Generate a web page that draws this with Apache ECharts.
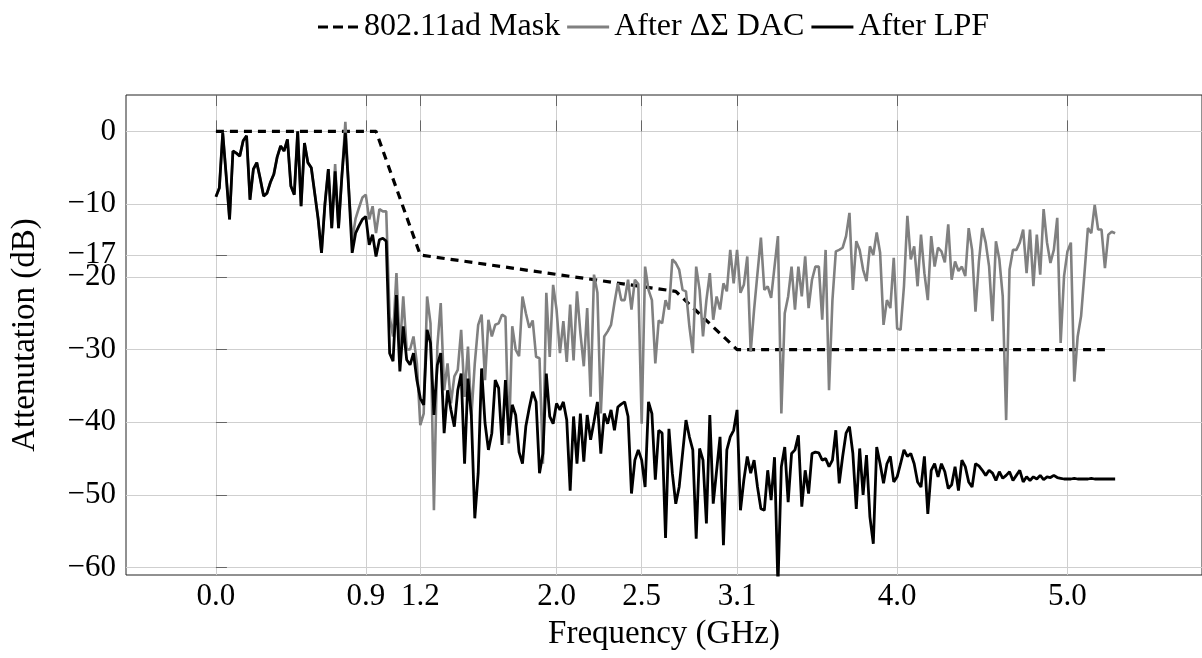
<!DOCTYPE html>
<html>
<head>
<meta charset="utf-8">
<title>DAC spectrum</title>
<script src="https://cdn.jsdelivr.net/npm/echarts@6/dist/echarts.min.js"></script>
<style>
  html, body { margin: 0; padding: 0; background: #fff; }
  #content { width: 1202px; height: 658px; }
</style>
</head>
<body>
<div id="content"></div>
<script>
/* data, one sample every freqStep GHz starting at 0 */
var freqStep = 0.02;

var lpfDb = [
  -9.0,-7.8,-0.2,-6.0,-12.1,-2.7,-3.0,-3.4,-1.3,-0.6,
  -9.4,-5.2,-4.3,-6.5,-8.9,-8.5,-7.0,-5.9,-3.5,-2.0,
  -2.7,-1.1,-7.5,-8.7,0.0,-10.3,-1.6,-4.3,-5.0,-8.5,
  -12.0,-16.7,-10.0,-5.2,-13.3,-5.5,-13.3,-6.0,-0.2,-8.0,
  -16.7,-14.0,-13.0,-12.1,-11.7,-15.6,-14.2,-17.2,-14.9,-14.7,
  -15.1,-30.5,-31.6,-22.5,-33.0,-26.8,-31.4,-32.1,-30.5,-34.2,
  -36.7,-37.6,-27.3,-29.1,-39.0,-32.1,-30.5,-41.5,-35.6,-38.3,
  -40.6,-35.6,-33.3,-45.7,-34.0,-39.2,-53.2,-47.0,-32.6,-40.1,
  -43.8,-41.5,-34.2,-35.3,-43.1,-34.2,-41.8,-37.6,-39.0,-44.1,
  -45.7,-40.5,-38.0,-35.8,-37.2,-47.0,-44.3,-33.3,-39.2,-40.2,
  -37.4,-38.3,-37.2,-39.7,-49.4,-39.2,-45.7,-38.8,-45.4,-39.0,
  -42.4,-39.9,-37.2,-44.3,-38.8,-40.2,-38.3,-41.1,-37.9,-37.5,
  -37.2,-39.2,-49.8,-45.2,-43.8,-45.2,-48.9,-37.2,-38.8,-47.9,
  -41.1,-41.5,-55.9,-40.9,-47.0,-51.2,-48.9,-44.3,-39.7,-42.0,
  -43.8,-56.0,-43.6,-45.2,-53.9,-39.0,-51.2,-46.6,-42.0,-56.9,
  -43.8,-42.0,-41.1,-38.3,-52.1,-47.9,-44.7,-47.0,-45.2,-48.9,
  -51.9,-52.1,-46.6,-50.7,-44.8,-62.5,-46.1,-43.4,-51.0,-44.3,
  -43.8,-41.8,-51.6,-46.6,-49.8,-44.3,-44.1,-44.2,-45.2,-45.0,
  -46.1,-45.2,-41.1,-48.4,-44.7,-41.5,-40.6,-44.3,-51.9,-43.6,
  -50.0,-44.5,-53.0,-56.7,-43.4,-45.7,-48.4,-45.7,-44.7,-48.2,
  -47.5,-45.7,-43.8,-44.7,-44.3,-45.7,-48.2,-48.9,-44.7,-52.6,
  -46.6,-45.7,-47.5,-45.7,-46.8,-49.1,-48.6,-46.1,-49.4,-45.2,
  -46.1,-48.2,-48.9,-45.7,-46.0,-46.6,-47.3,-46.6,-47.0,-48.0,
  -46.8,-47.7,-47.3,-46.8,-48.0,-47.3,-46.6,-48.2,-47.5,-48.0,
  -47.5,-47.8,-47.3,-47.9,-47.5,-47.6,-47.3,-47.6,-47.7,-47.8,
  -47.8,-47.8,-47.7,-47.8,-47.8,-47.8,-47.8,-47.7,-47.8,-47.8,
  -47.8,-47.8,-47.8,-47.8,-47.8
];

var dacDb = [
  -9.0,-7.8,-0.2,-6.0,-12.1,-2.7,-3.0,-3.4,-1.3,-0.6,
  -9.4,-5.2,-4.3,-6.5,-8.9,-8.5,-7.0,-5.9,-3.5,-2.0,
  -2.7,-1.1,-7.5,-8.7,0.0,-10.3,-1.6,-4.3,-5.0,-8.5,
  -12.0,-16.7,-10.0,-5.2,-13.3,-4.5,-13.3,-6.0,1.3,-8.0,
  -15.0,-12.0,-10.5,-9.1,-8.7,-12.1,-10.3,-14.0,-10.7,-11.0,
  -11.0,-25.5,-28.2,-19.5,-30.0,-22.7,-30.0,-30.0,-28.2,-31.9,
  -40.4,-38.8,-22.7,-26.4,-52.1,-29.6,-23.6,-35.6,-31.9,-37.4,
  -33.7,-32.8,-27.3,-36.5,-29.6,-39.2,-31.9,-26.6,-25.2,-34.2,
  -25.9,-28.2,-26.6,-26.4,-25.2,-25.5,-42.9,-26.8,-30.0,-30.9,
  -22.7,-25.0,-27.0,-26.0,-31.0,-31.2,-45.7,-22.2,-31.0,-21.1,
  -24.5,-30.5,-26.1,-31.7,-23.8,-31.5,-22.0,-27.7,-32.3,-24.3,
  -36.5,-19.7,-22.2,-38.8,-28.2,-27.5,-26.6,-23.6,-20.9,-23.2,
  -23.2,-20.4,-24.5,-20.4,-21.0,-40.2,-18.6,-21.8,-23.2,-31.9,
  -26.0,-26.4,-23.2,-24.5,-17.6,-18.1,-19.0,-21.8,-22.0,-26.8,
  -30.5,-18.6,-21.8,-28.2,-23.2,-19.5,-25.9,-22.7,-24.5,-20.9,
  -22.0,-16.3,-20.9,-16.3,-22.2,-21.1,-17.2,-30.3,-24.5,-19.5,
  -14.6,-21.8,-21.3,-22.9,-18.6,-14.4,-38.8,-25.0,-22.7,-18.6,
  -24.5,-18.6,-22.7,-17.2,-24.3,-20.4,-18.6,-18.6,-25.9,-16.3,
  -35.6,-23.2,-16.5,-16.3,-16.0,-14.4,-11.2,-21.8,-15.1,-16.3,
  -19.0,-20.6,-15.8,-17.0,-13.9,-16.7,-26.6,-23.2,-24.3,-17.4,
  -27.1,-27.3,-21.3,-11.6,-17.6,-15.8,-21.3,-14.2,-19.5,-23.2,
  -14.4,-18.6,-16.0,-16.5,-18.0,-12.8,-20.4,-17.9,-19.2,-18.6,
  -19.9,-13.3,-16.3,-24.8,-17.9,-13.3,-15.3,-18.6,-26.1,-15.1,
  -17.6,-22.7,-39.7,-19.0,-16.3,-16.3,-15.3,-13.5,-19.5,-13.5,
  -21.3,-14.2,-19.7,-10.7,-15.3,-18.1,-16.3,-11.9,-29.1,-19.9,
  -16.5,-15.3,-34.4,-28.2,-25.4,-19.5,-13.3,-14.0,-10.1,-13.5,
  -13.5,-18.8,-14.2,-13.8,-14.0
];

/* 802.11ad spectral mask corners */
var maskFreq = [0, 0.94, 1.2, 2.7, 3.06, 5.22];
var maskDb = [0, 0, -17, -22, -30, -30];

/* tick positions and labels */
var xTicks = [0, 0.88, 1.2, 2.0, 2.5, 3.06, 4.0, 5.0];
var yTicks = [0, -10, -17, -20, -30, -40, -50, -60];

var legendNames = ['802.11ad Mask', 'After \u0394\u03A3 DAC', 'After LPF'];

window.onload = function(){
  var font = "'Liberation Serif', 'Times New Roman', serif";

  function pairs(ys){
    return ys.map(function(y, i){ return [+(i * freqStep).toFixed(2), y]; });
  }
  var maskData = maskFreq.map(function(f, i){ return [f, maskDb[i]]; });

  function yLabel(v){
    return v < 0 ? '\u2212' + Math.abs(v) : String(v);
  }

  var myChart = echarts.init(document.getElementById('content'), null, {renderer: 'canvas'});

  /* legend keys: plain bars, the mask one cut into three dashes */
  var dashIcon = 'path://M0,0h10v3h-10z M15,0h10v3h-10z M30,0h10v3h-10z';

  var option = {
    animation: false,
    backgroundColor: '#fff',
    textStyle: { fontFamily: font },
    legend: {
      top: 6,
      left: 313,
      itemWidth: 42,
      itemHeight: 3,
      itemGap: 7,
      data: [
        { name: legendNames[0], icon: dashIcon },
        { name: legendNames[1], icon: 'rect' },
        { name: legendNames[2], icon: 'rect' }
      ],
      textStyle: { fontFamily: font, fontSize: 32, color: '#000' }
    },
    grid: {
      left: 126, top: 95, width: 1078, height: 480,
      show: true, borderColor: '#222', borderWidth: 1,
      containLabel: false
    },
    xAxis: [{
      type: 'value',
      min: -0.528, max: 5.79,
      name: 'Frequency (GHz)',
      nameLocation: 'middle',
      nameGap: 43,
      nameTextStyle: { fontFamily: font, fontSize: 33, color: '#000' },
      axisLine: { show: false },
      axisTick: { show: true, inside: true, length: 11, customValues: xTicks, lineStyle: { color: '#666' } },
      axisLabel: {
        customValues: xTicks, margin: 6,
        fontFamily: font, fontSize: 31, color: '#000',
        formatter: function(v){ return v.toFixed(1); }
      },
      splitLine: { show: true, lineStyle: { color: '#cfcfcf', width: 1 } }
    }, {
      type: 'value', position: 'top',
      min: -0.528, max: 5.79,
      axisLine: { show: false },
      axisTick: { show: true, inside: true, length: 11, customValues: xTicks, lineStyle: { color: '#666' } },
      axisLabel: { show: false },
      splitLine: { show: false }
    }],
    yAxis: {
      type: 'value',
      min: -61, max: 5,
      name: 'Attenutation (dB)',
      nameLocation: 'middle',
      nameRotate: 90,
      nameGap: 84,
      nameTextStyle: { fontFamily: font, fontSize: 33, color: '#000' },
      axisLine: { show: false },
      axisTick: { show: true, inside: true, length: 11, customValues: yTicks, lineStyle: { color: '#666' } },
      axisLabel: {
        customValues: yTicks, margin: 10,
        fontFamily: font, fontSize: 31, color: '#000',
        formatter: yLabel
      },
      splitLine: { show: true, lineStyle: { color: '#cfcfcf', width: 1 } }
    },
    series: [
      {
        name: legendNames[0], type: 'line', data: maskData,
        showSymbol: false, symbol: 'none', z: 3,
        lineStyle: { color: '#000', width: 3.2, type: [8, 6] },
        itemStyle: { color: '#000' }
      },
      {
        name: legendNames[1], type: 'line', data: pairs(dacDb),
        showSymbol: false, symbol: 'none', z: 4,
        lineStyle: { color: '#808080', width: 2.6 },
        itemStyle: { color: '#808080' }
      },
      {
        name: legendNames[2], type: 'line', data: pairs(lpfDb),
        showSymbol: false, symbol: 'none', z: 5,
        lineStyle: { color: '#000', width: 2.8 },
        itemStyle: { color: '#000' }
      }
    ]
  };

  myChart.setOption(option);
};
</script>
</body>
</html>
